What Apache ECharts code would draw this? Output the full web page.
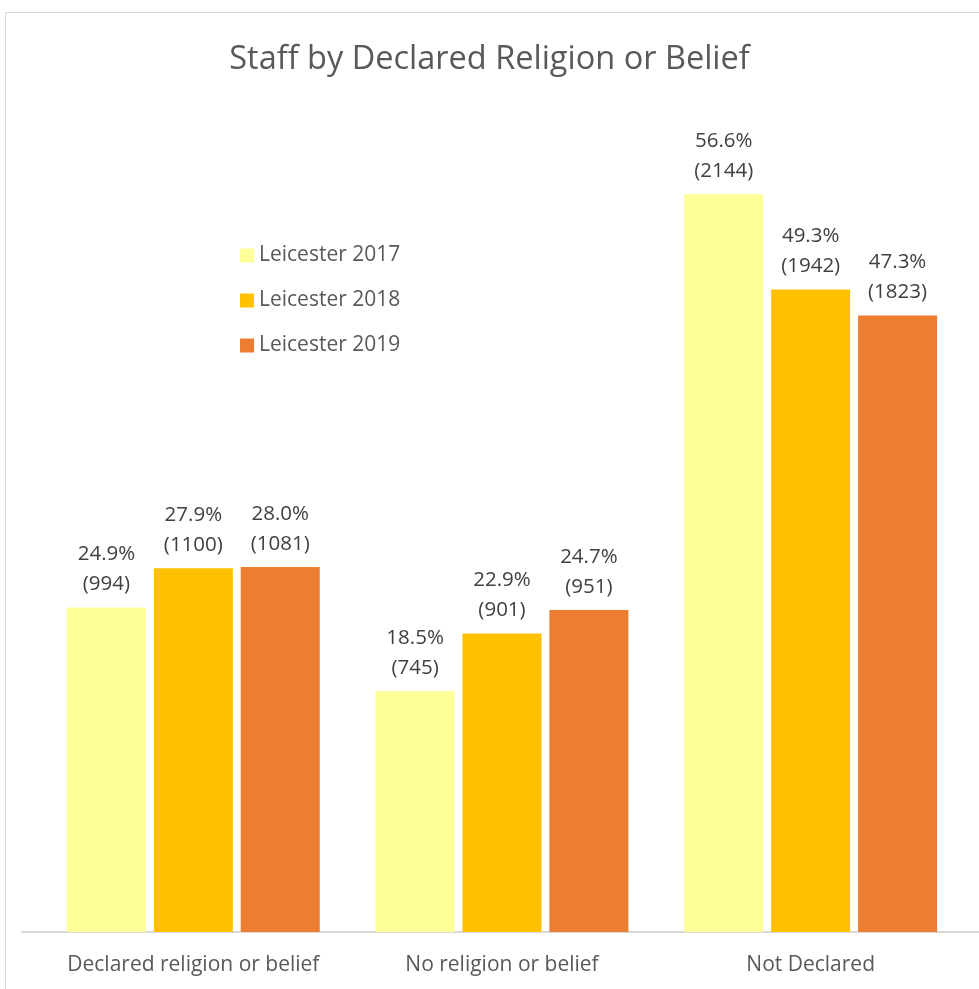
<!DOCTYPE html>
<html>
<head>
<meta charset="utf-8">
<script src="https://cdn.jsdelivr.net/npm/echarts@6/dist/echarts.min.js"></script>
<style>html,body{margin:0;padding:0;background:#fff;}#c{width:979px;height:989px;}</style>
</head>
<body>
<div id="c"></div>
<script>
const categories = ['Declared religion or belief', 'No religion or belief', 'Not Declared'];
const seriesNames = ['Leicester 2017', 'Leicester 2018', 'Leicester 2019'];
const pct2017 = [24.9, 18.5, 56.6];
const pct2018 = [27.9, 22.9, 49.3];
const pct2019 = [28.0, 24.7, 47.3];
const cnt2017 = [994, 745, 2144];
const cnt2018 = [1100, 901, 1942];
const cnt2019 = [1081, 951, 1823];
const colors = ['#FFFF99', '#FFC000', '#ED7D31'];

const pcts = [pct2017, pct2018, pct2019];
const cnts = [cnt2017, cnt2018, cnt2019];
const font = '"Open Sans", sans-serif';

const chart = echarts.init(document.getElementById('c'));
chart.setOption({
  animation: false,
  backgroundColor: '#fff',
  title: {
    text: 'Staff by Declared Religion or Belief',
    left: 'center', top: 38,
    textStyle: {fontFamily: font, fontSize: 32.5, fontWeight: 'normal', color: '#595959'}
  },
  legend: {
    orient: 'vertical', left: 235, top: 240,
    itemWidth: 14, itemHeight: 14, itemGap: 24,
    icon: 'rect',
    textStyle: {fontFamily: font, fontSize: 21, color: '#595959', lineHeight: 21}
  },
  grid: {left: 39, right: 14, top: 150, bottom: 57},
  xAxis: {
    type: 'category', data: categories,
    axisLine: {show: false},
    axisTick: {show: false},
    axisLabel: {interval: 0, hideOverlap: false, fontFamily: font, fontSize: 21, color: '#595959', margin: 23}
  },
  yAxis: {type: 'value', min: 0, max: 60, show: false, splitLine: {show: false}},
  graphic: [
    {type: 'rect', shape: {x: 5.5, y: 12.5, width: 1000, height: 1000}, style: {fill: 'none', stroke: '#d9d9d9', lineWidth: 1}, silent: true},
    {type: 'line', shape: {x1: 21, y1: 932, x2: 979, y2: 932}, style: {stroke: '#d9d9d9', lineWidth: 2}, silent: true, z: 0}
  ],
  series: seriesNames.map((n, i) => ({
    name: n, type: 'bar',
    data: pcts[i],
    barWidth: 79, barGap: '10%',
    itemStyle: {color: colors[i]},
    label: {
      show: true, position: 'top', distance: 8,
      fontFamily: font, fontSize: 20.5, color: '#404040', lineHeight: 30,
      formatter: p => p.value.toFixed(1) + '%\n(' + cnts[i][p.dataIndex] + ')'
    }
  }))
});
</script>
</body>
</html>
